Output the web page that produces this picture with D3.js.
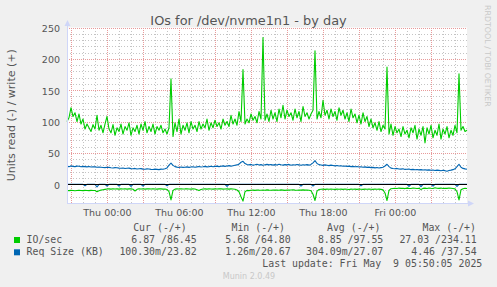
<!DOCTYPE html>
<html><head><meta charset="utf-8">
<script src="https://cdn.jsdelivr.net/npm/d3@7"></script>
<style>
html,body{margin:0;padding:0;background:#F0F0F0;}
svg{display:block;}
text{white-space:pre;}
</style></head><body>
<script>
const title = "IOs for /dev/nvme1n1 - by day";
const yLabel = "Units read (-) / write (+)";
const startTime = Date.UTC(2025, 4, 7, 20, 38);
const stepMinutes = 10;
const yTickValues = [0, 50, 100, 150, 200, 250];
const yDomain = [-30, 250];

const ioWrite = [
100,106,122,108,114,100,112,96,104,88,
96,90,84,95,88,110,86,94,82,96,
108,88,82,95,78,90,84,96,80,92,
86,98,78,90,84,94,80,96,86,100,
82,92,84,96,80,92,86,94,82,88,
80,90,168,76,98,84,104,80,94,86,
98,82,100,88,94,84,100,88,96,90,
104,86,98,90,102,92,98,88,104,94,
100,92,110,96,104,94,116,100,183,96,
104,98,112,102,108,98,116,104,234,102,
112,100,118,104,114,100,120,106,126,104,
118,108,114,102,120,106,116,100,124,108,
114,104,112,118,213,104,116,106,134,110,
118,104,120,108,116,102,122,110,118,104,
114,100,120,106,112,98,110,96,114,100,
108,92,104,90,98,86,100,84,94,88,
187,80,96,78,92,82,88,76,92,80,
86,74,90,82,94,72,88,78,92,66,
90,80,94,74,86,78,96,72,88,80,
92,74,86,78,94,82,176,86,92,84,
86];

const ioRead = [
10.0,10.2,9.8,10.0,10.4,10.1,9.8,10.0,10.2,9.9,
10.0,10.3,9.9,10.1,10.0,12.0,10.6,9.4,8.8,8.2,
7.6,7.4,7.8,7.3,7.6,7.5,7.9,7.4,7.6,7.2,
7.8,7.5,7.4,8.0,10.8,8.2,7.4,7.6,7.3,7.8,
7.5,7.4,7.7,7.2,7.6,7.9,7.4,7.5,7.8,7.6,
8.4,12,25,10,7.8,7.4,7.6,7.3,7.7,7.5,
7.2,7.6,7.8,7.4,7.6,8.8,10.2,8.6,7.6,7.4,
7.8,7.3,7.6,7.9,7.4,7.7,7.5,7.3,7.8,7.6,
7.4,7.9,7.5,7.7,8.0,9.2,12,20,27,12,
9.8,10.2,9.6,9.4,9.8,9.2,9.5,9.7,9.3,9.6,
9.0,9.4,9.7,9.2,9.5,9.3,9.6,9.1,9.4,9.8,
9.2,9.5,9.3,9.0,9.4,9.6,9.2,9.5,9.1,9.4,
9.3,9.6,10.4,16,26,11,8.4,8.0,7.8,8.2,
7.9,8.1,7.7,8.0,8.3,7.8,8.1,7.9,8.2,7.7,
8.0,8.4,7.8,8.1,7.9,8.2,7.6,8.0,8.3,7.9,
8.1,7.8,8.0,8.2,7.7,8.0,7.9,8.3,9.0,14,
26,10,7.2,6.8,6.4,6.9,6.2,6.7,6.5,7.0,
6.3,6.6,6.8,6.1,6.5,6.9,6.4,8.6,6.7,6.3,
6.8,6.0,6.5,6.9,5.7,6.4,6.6,6.2,6.8,6.4,
6.7,6.1,6.5,6.9,7.4,12,25,9,7.2,6.6,
6.87];

const reqWrite = [
28.5,28.0,29.2,28.4,28.0,28.8,28.6,27.8,28.4,28.0,
27.6,28.2,27.4,27.9,27.6,27.0,27.4,27.0,26.6,26.4,
27.0,26.8,26.2,25.8,26.4,26.2,25.6,25.4,25.9,25.0,
25.4,25.6,24.8,24.6,25.2,24.2,24.6,24.8,24.0,23.8,
24.4,24.2,23.6,23.4,24.0,23.6,23.2,24.0,23.8,24.6,
26.0,30.5,33.5,30.0,28.0,27.2,26.6,27.4,26.8,27.0,
27.6,26.8,27.4,27.8,27.0,27.6,28.2,27.4,27.8,28.4,
27.6,28.0,28.6,27.8,28.4,28.8,28.0,28.6,29.2,28.4,
29.0,29.6,28.8,29.4,30.2,30.8,32,35,36.5,33,
31.4,30.8,31.6,30.4,31.0,31.8,30.6,31.2,30.2,31.0,
31.6,30.8,31.4,30.4,31.2,30.6,31.8,31.0,30.4,31.2,
30.8,31.6,30.2,31.0,30.6,31.4,30.8,30.2,31.0,30.6,
31.2,30.4,31.6,34,37.5,33,31.2,30.6,30.0,30.8,
30.2,29.6,30.4,29.8,29.2,29.8,29.0,29.4,28.6,29.0,
28.4,28.8,28.0,28.4,27.8,28.2,27.4,27.8,27.0,27.6,
26.8,27.2,26.4,26.8,26.0,26.6,25.8,26.4,27.0,29,
31.8,28,25.6,25.0,24.6,25.2,24.2,24.0,24.6,23.6,
23.8,24.2,23.2,23.6,23.0,23.4,22.8,23.2,22.6,23.0,
22.4,22.8,22.2,22.6,21.8,22.4,22.0,21.4,22.2,21.6,
20.7,21.8,22.4,23.2,24.6,28,31.8,27,25.2,24.4,
23.8];

const reqRead = [
0.2,0.3,0.2,0.1,0.2,0.3,0.2,0.2,0.3,2.5,
0.2,0.3,0.2,0.1,0.2,4.46,0.3,0.2,0.2,0.1,
3.0,0.2,0.3,0.2,0.1,0.2,3.2,0.3,0.2,0.2,
0.1,0.3,3.5,0.2,0.2,0.3,0.1,0.2,3.0,0.2,
0.3,0.2,0.1,0.2,0.3,0.2,0.2,0.1,0.3,0.2,
2.5,0.2,0.3,0.2,0.1,0.2,0.3,0.2,0.2,0.1,
0.3,0.2,0.2,0.1,0.3,0.2,0.2,0.3,0.1,0.2,
0.2,0.3,0.2,0.1,0.2,0.3,0.2,0.2,0.1,0.3,
3.5,0.2,0.2,0.3,0.1,0.2,0.3,0.2,0.2,0.1,
0.3,0.2,0.2,0.1,0.3,0.2,0.2,0.3,0.1,0.2,
0.2,0.3,0.2,0.1,0.2,0.3,0.2,0.2,0.1,0.3,
0.2,0.2,0.3,0.1,0.2,0.2,0.3,3.0,0.2,0.1,
0.3,0.2,0.2,2.8,0.2,0.3,0.1,0.2,0.2,0.3,
0.1,0.2,0.3,0.2,0.2,0.1,0.3,0.2,0.2,0.1,
0.3,0.2,0.2,0.1,0.2,0.3,0.2,2.6,0.2,0.1,
0.3,0.2,0.2,0.1,0.3,0.2,0.2,0.3,0.1,0.2,
0.2,0.3,0.2,0.1,0.2,0.3,0.2,0.2,0.1,0.3,
0.2,3.6,0.2,0.1,0.3,0.2,0.2,3.8,0.2,0.1,
0.3,0.2,0.2,3.2,0.2,0.3,0.1,0.2,0.2,0.3,
0.1,0.2,0.3,0.2,0.2,3.4,0.2,0.1,0.3,0.2,
0.1];

const legendHeader = ["Cur (-/+)", "Min (-/+)", "Avg (-/+)", "Max (-/+)"];
const legendSeries = ["IO/sec", "Req Size (KB)"];
const legendValues = [
  ["6.87 /86.45", "5.68 /64.80", "8.85 /97.55", "27.03 /234.11"],
  ["100.30m/23.82", "1.26m/20.67", "304.09m/27.07", "4.46 /37.54"]
];
const seriesColors = ["#00CC00", "#0066B3"];
const lastUpdate = "Last update: Fri May  9 05:50:05 2025";
const footer = "Munin 2.0.49";
const watermark = "RRDTOOL / TOBI OETIKER";

// ---------- layout ----------
const W = 497, H = 287;
const plot = {left: 67, right: 467, top: 27.5, bottom: 203};
const fontColor = "#555";
const sans = "'DejaVu Sans', sans-serif";
const mono = "'DejaVu Sans Mono', monospace";

const svg = d3.select("body").append("svg").attr("width", W).attr("height", H);
svg.append("rect").attr("width", W).attr("height", H).attr("fill", "#F0F0F0");
svg.append("rect").attr("x", plot.left).attr("y", plot.top)
  .attr("width", plot.right - plot.left).attr("height", plot.bottom - plot.top)
  .attr("fill", "#FFFFFF");

const t0 = new Date(startTime);
const t1 = new Date(startTime + (ioWrite.length - 1) * stepMinutes * 60000);
const timeAt = i => new Date(startTime + i * stepMinutes * 60000);
const x = d3.scaleUtc().domain([t0, t1]).range([plot.left, plot.right]);
const y = d3.scaleLinear().domain(yDomain).range([plot.bottom, plot.top]);
const px = v => Math.round(v) + 0.5;

// grid
const grid = svg.append("g").attr("shape-rendering", "crispEdges");
const yMinor = d3.range(yDomain[0] + 10, yDomain[1] + 1, 10).filter(v => v % 50 !== 0);
grid.selectAll(".ymin").data(yMinor).join("line")
  .attr("x1", plot.left).attr("x2", plot.right)
  .attr("y1", d => px(y(d))).attr("y2", d => px(y(d)))
  .attr("stroke", "#c4c4c4").attr("stroke-dasharray", "1,2");
const hours = d3.utcHour.range(t0, t1);
grid.selectAll(".xmin").data(hours.filter(d => d.getUTCHours() % 3 !== 0)).join("line")
  .attr("x1", d => px(x(d))).attr("x2", d => px(x(d)))
  .attr("y1", plot.top).attr("y2", plot.bottom)
  .attr("stroke", "#c4c4c4").attr("stroke-dasharray", "1,2");
grid.selectAll(".xmaj").data(hours.filter(d => d.getUTCHours() % 3 === 0)).join("line")
  .attr("x1", d => px(x(d))).attr("x2", d => px(x(d)))
  .attr("y1", plot.top).attr("y2", plot.bottom)
  .attr("stroke", "#e89a9a").attr("stroke-dasharray", "1,1");
grid.selectAll(".ymaj").data(yTickValues.filter(v => v !== 0)).join("line")
  .attr("x1", plot.left).attr("x2", plot.right)
  .attr("y1", d => px(y(d))).attr("y2", d => px(y(d)))
  .attr("stroke", "#e89a9a").attr("stroke-dasharray", "1,1");

// series
const lineFor = sign => d3.line().x((d, i) => x(timeAt(i))).y(d => y(sign * d));
const series = [
  {data: ioRead, sign: -1, color: seriesColors[0]},
  {data: ioWrite, sign: 1, color: seriesColors[0]},
  {data: reqRead, sign: -1, color: seriesColors[1]},
  {data: reqWrite, sign: 1, color: seriesColors[1]}
];
series.forEach(s => {
  svg.append("path").datum(s.data).attr("d", lineFor(s.sign))
    .attr("fill", "none").attr("stroke", s.color).attr("stroke-width", 1.1)
    .attr("stroke-linejoin", "round");
});

// zero line
svg.append("line").attr("x1", plot.left).attr("x2", plot.right)
  .attr("y1", px(y(0))).attr("y2", px(y(0)))
  .attr("stroke", "#000").attr("stroke-width", 1).attr("shape-rendering", "crispEdges");

// axes
const axisColor = "#CFD6F8";
svg.append("line").attr("x1", plot.left + 0.5).attr("x2", plot.left + 0.5)
  .attr("y1", plot.bottom).attr("y2", 22).attr("stroke", axisColor).attr("shape-rendering", "crispEdges");
svg.append("line").attr("x1", plot.left).attr("x2", plot.right + 4)
  .attr("y1", px(plot.bottom)).attr("y2", px(plot.bottom)).attr("stroke", axisColor).attr("shape-rendering", "crispEdges");
svg.append("path").attr("d", `M${plot.left - 2.5},${26} L${plot.left + 3.5},${26} L${plot.left + 0.5},${20} Z`).attr("fill", axisColor);
svg.append("path").attr("d", `M${plot.right + 1},${plot.bottom - 2.5} L${plot.right + 1},${plot.bottom + 3.5} L${plot.right + 7},${plot.bottom + 0.5} Z`).attr("fill", axisColor);

// y tick labels
svg.append("g").selectAll("text").data(yTickValues).join("text")
  .attr("x", 60).attr("y", d => y(d) + 4.5)
  .attr("text-anchor", "end").attr("font-family", sans).attr("font-size", 9.5)
  .attr("fill", fontColor).text(d => d);

// x tick labels
const fmt = d3.utcFormat("%a %H:%M");
svg.append("g").selectAll("text").data(d3.utcHour.every(6).range(t0, t1)).join("text")
  .attr("x", d => x(d)).attr("y", 216)
  .attr("text-anchor", "middle").attr("font-family", sans).attr("font-size", 9.5)
  .attr("fill", fontColor).text(d => fmt(d));

// title
svg.append("text").attr("x", 248.5).attr("y", 24.5).attr("text-anchor", "middle")
  .attr("font-family", sans).attr("font-size", 12.9).attr("fill", fontColor).text(title);

// y label
svg.append("text").attr("transform", `translate(14.5,${(plot.top + plot.bottom) / 2}) rotate(-90)`)
  .attr("text-anchor", "middle").attr("font-family", sans).attr("font-size", 11)
  .attr("fill", fontColor).text(yLabel);

// watermark
svg.append("text").attr("transform", "translate(485,5) rotate(90)")
  .attr("font-family", sans).attr("font-size", 7.9).attr("fill", "#c8c8c8").text(watermark);

// legend
const colEnds = [196.7, 290.7, 383.3, 476.7];
const headEnds = [186.7, 285, 380.5, 476];
const lg = svg.append("g").attr("font-family", mono).attr("font-size", 9.9).attr("fill", fontColor);
legendHeader.forEach((h, k) => {
  lg.append("text").attr("x", headEnds[k]).attr("y", 231).attr("text-anchor", "end").text(h);
});
legendSeries.forEach((name, r) => {
  const yb = 243 + r * 12.3;
  svg.append("rect").attr("x", 14).attr("y", yb - 6).attr("width", 6).attr("height", 6)
    .attr("fill", seriesColors[r]);
  lg.append("text").attr("x", 26.5).attr("y", yb).text(name);
  legendValues[r].forEach((v, k) => {
    lg.append("text").attr("x", colEnds[k]).attr("y", yb).attr("text-anchor", "end").text(v);
  });
});
lg.append("text").attr("x", 482.3).attr("y", 267).attr("text-anchor", "end").text(lastUpdate);
svg.append("text").attr("x", 249).attr("y", 278.7).attr("text-anchor", "middle")
  .attr("font-family", sans).attr("font-size", 8).attr("fill", "#c8c8c8").text(footer);
</script>
</body></html>
